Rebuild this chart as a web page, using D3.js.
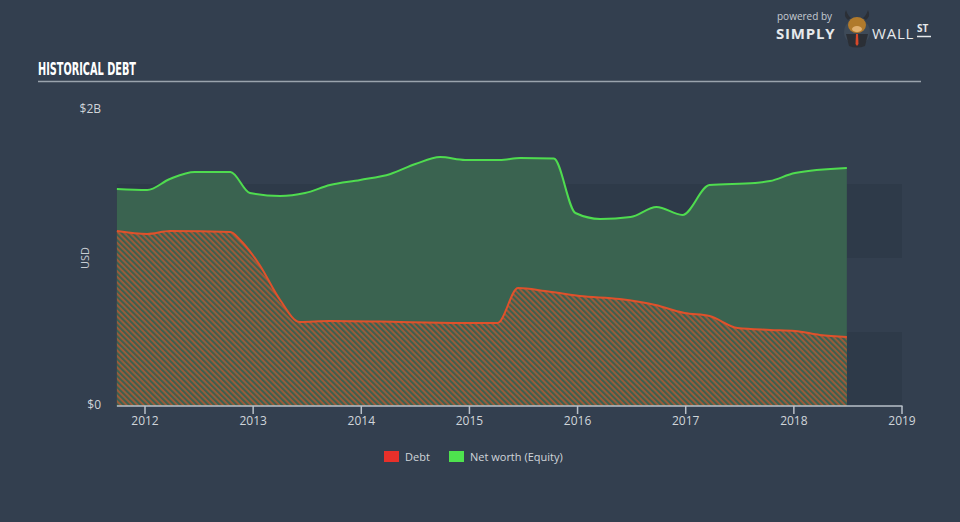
<!DOCTYPE html>
<html>
<head>
<meta charset="utf-8">
<script src="https://cdn.jsdelivr.net/npm/d3@7"></script>
<style>
  html, body { margin: 0; padding: 0; background: #333f4f; }
  svg { display: block; }
</style>
</head>
<body>
<div id="app"></div>
<script>
// dates as fractional years, values in billions USD
const equityDates = [2011.74, 2012.02, 2012.23, 2012.46, 2012.79, 2012.97, 2013.25, 2013.48, 2013.71, 2013.99,
  2014.27, 2014.50, 2014.73, 2014.96, 2015.28, 2015.47, 2015.78, 2015.98, 2016.21, 2016.49, 2016.73, 2016.97,
  2017.22, 2017.64, 2017.78, 2018.01, 2018.49];
const equityValues = [1.466, 1.459, 1.534, 1.581, 1.581, 1.439, 1.419, 1.439, 1.493, 1.527,
  1.568, 1.635, 1.682, 1.662, 1.662, 1.676, 1.672, 1.304, 1.264, 1.277, 1.345, 1.291,
  1.493, 1.507, 1.52, 1.574, 1.608];

const debtDates = [2011.74, 2012.02, 2012.23, 2012.79, 2012.88, 2013.06, 2013.25, 2013.43, 2013.71, 2014.36,
  2015.01, 2015.26, 2015.45, 2015.70, 2016.02, 2016.39, 2016.72, 2016.99, 2017.22, 2017.48, 2017.78,
  2018.01, 2018.24, 2018.49];
const debtValues = [1.182, 1.162, 1.182, 1.176, 1.122, 0.953, 0.716, 0.568, 0.574, 0.568,
  0.561, 0.561, 0.797, 0.777, 0.743, 0.723, 0.682, 0.628, 0.608, 0.527, 0.514,
  0.507, 0.480, 0.466];

const xTicks = [2012, 2013, 2014, 2015, 2016, 2017, 2018, 2019];
const yTicks = [0, 2];
const yTickLabels = ["$0", "$2B"];
const bands = [[0, 0.5], [1, 1.5]];
const legendItems = [
  { name: "Debt", color: "#e8302a" },
  { name: "Net worth (Equity)", color: "#4ee24e" }
];

const width = 960, height = 522;

const svg = d3.select("#app")
  .append("svg")
  .attr("width", width)
  .attr("height", height);

svg.append("rect").attr("width", width).attr("height", height).attr("fill", "#333f4f");

const x = d3.scaleLinear().domain([2012, 2019]).range([145, 902]);
const y = d3.scaleLinear().domain([0, 2]).range([406, 110]);
const x0 = x(equityDates[0]);

// hatch pattern for debt
const defs = svg.append("defs");
const pat = defs.append("pattern")
  .attr("id", "hatch")
  .attr("patternUnits", "userSpaceOnUse")
  .attr("width", 4)
  .attr("height", 4)
  .attr("patternTransform", "rotate(45)");
pat.append("rect").attr("width", 4).attr("height", 4).attr("fill", "#3c6150");
pat.append("rect").attr("width", 4).attr("height", 1.8).attr("fill", "#a35a38");

// title
svg.append("text")
  .attr("x", 38).attr("y", 75)
  .attr("fill", "#ffffff")
  .attr("textLength", 98)
  .attr("lengthAdjust", "spacingAndGlyphs")
  .style("font-family", "'DejaVu Sans Condensed', 'Liberation Sans Narrow', sans-serif")
  .style("font-weight", "bold")
  .style("font-size", "17px")
  .text("HISTORICAL DEBT");
svg.append("line")
  .attr("x1", 38).attr("x2", 921).attr("y1", 81.5).attr("y2", 81.5)
  .attr("stroke", "#9aa3ad").attr("stroke-width", 1.5);

// background bands
svg.selectAll("rect.band")
  .data(bands)
  .join("rect")
  .attr("class", "band")
  .attr("x", x0)
  .attr("width", x(2019) - x0)
  .attr("y", d => y(d[1]))
  .attr("height", d => y(d[0]) - y(d[1]))
  .attr("fill", "#2e3a49");

const equity = equityDates.map((d, i) => ({ t: d, v: equityValues[i] }));
const debt = debtDates.map((d, i) => ({ t: d, v: debtValues[i] }));

const curve = d3.curveMonotoneX;

svg.append("path")
  .datum(equity)
  .attr("fill", "#3a6350")
  .attr("d", d3.area().curve(curve).x(d => x(d.t)).y0(y(0)).y1(d => y(d.v)));

svg.append("path")
  .datum(debt)
  .attr("fill", "url(#hatch)")
  .attr("d", d3.area().curve(curve).x(d => x(d.t)).y0(y(0)).y1(d => y(d.v)));

svg.append("path")
  .datum(equity)
  .attr("fill", "none")
  .attr("stroke", "#4fdc4f")
  .attr("stroke-width", 2)
  .attr("d", d3.line().curve(curve).x(d => x(d.t)).y(d => y(d.v)));

svg.append("path")
  .datum(debt)
  .attr("fill", "none")
  .attr("stroke", "#e0512b")
  .attr("stroke-width", 2)
  .attr("d", d3.line().curve(curve).x(d => x(d.t)).y(d => y(d.v)));

// x axis
const xAxis = svg.append("g")
  .attr("transform", `translate(0,${y(0)})`);
xAxis.append("line")
  .attr("x1", x0).attr("x2", x(2019) + 0.5)
  .attr("stroke", "#b9c0c8").attr("stroke-width", 1.5);
xAxis.selectAll("line.tick")
  .data(xTicks)
  .join("line")
  .attr("class", "tick")
  .attr("x1", d => x(d)).attr("x2", d => x(d))
  .attr("y1", 0).attr("y2", 8)
  .attr("stroke", "#b9c0c8").attr("stroke-width", 1.5);
xAxis.selectAll("text")
  .data(xTicks)
  .join("text")
  .attr("x", d => x(d)).attr("y", 19)
  .attr("text-anchor", "middle")
  .attr("fill", "#d0d5da")
  .style("font-family", "'Open Sans', sans-serif")
  .style("font-size", "12px")
  .text(d => d);

// y labels
svg.selectAll("text.ytick")
  .data(yTicks)
  .join("text")
  .attr("class", "ytick")
  .attr("x", 101)
  .attr("y", d => y(d) + 3)
  .attr("text-anchor", "end")
  .attr("fill", "#d0d5da")
  .style("font-family", "'Open Sans', sans-serif")
  .style("font-size", "12px")
  .text((d, i) => yTickLabels[i]);

svg.append("text")
  .attr("transform", `translate(89,${y(1)}) rotate(-90)`)
  .attr("text-anchor", "middle")
  .attr("fill", "#c8cdd3")
  .style("font-family", "'Open Sans', sans-serif")
  .style("font-size", "11px")
  .text("USD");

// legend
const legend = svg.append("g").attr("transform", "translate(384,451)");
const lx = [0, 65];
legendItems.forEach((item, i) => {
  legend.append("rect")
    .attr("x", lx[i]).attr("y", 0)
    .attr("width", 15).attr("height", 11)
    .attr("fill", item.color);
  legend.append("text")
    .attr("x", lx[i] + 21).attr("y", 10)
    .attr("fill", "#d0d5da")
    .style("font-family", "'Open Sans', sans-serif")
    .style("font-size", "11px")
    .text(item.name);
});

// logo
const logo = svg.append("g");
logo.append("text")
  .attr("x", 777).attr("y", 20)
  .attr("fill", "#c6ccd3")
  .style("font-family", "'Open Sans', sans-serif")
  .style("font-size", "10px")
  .text("powered by");
logo.append("text")
  .attr("x", 776).attr("y", 39)
  .attr("fill", "#e6e9ec")
  .style("font-family", "'Open Sans', sans-serif")
  .style("font-weight", "bold")
  .style("font-size", "15px")
  .style("letter-spacing", "0.8px")
  .text("SIMPLY");
logo.append("circle").attr("cx", 857).attr("cy", 32).attr("r", 13).attr("fill", "#3e4a58");
logo.append("path")
  .attr("d", "M846,34 L868,34 L865,46 Q857,49 849,46 Z")
  .attr("fill", "#2b2f36");
logo.append("path")
  .attr("d", "M856,34 L858,34 L858.5,44 L857,46 L855.5,44 Z")
  .attr("fill", "#d8482a");
logo.append("ellipse").attr("cx", 857).attr("cy", 25).attr("rx", 9).attr("ry", 8).attr("fill", "#b07a2c");
logo.append("path")
  .attr("d", "M848,20 Q843,16 846,10 Q848,16 851,18 Z M866,20 Q871,16 868,10 Q866,16 863,18 Z")
  .attr("fill", "#2b2f36");
logo.append("ellipse").attr("cx", 857).attr("cy", 29).attr("rx", 5).attr("ry", 3).attr("fill", "#e0b070");
logo.append("text")
  .attr("x", 872).attr("y", 39)
  .attr("fill", "#e6e9ec")
  .style("font-family", "'Open Sans', sans-serif")
  .style("font-size", "15px")
  .style("letter-spacing", "0.8px")
  .text("WALL");
logo.append("text")
  .attr("x", 917).attr("y", 32)
  .attr("fill", "#e6e9ec")
  .style("font-family", "'Open Sans', sans-serif")
  .style("font-weight", "bold")
  .style("font-size", "10px")
  .text("ST");
logo.append("line")
  .attr("x1", 917).attr("x2", 931).attr("y1", 36.5).attr("y2", 36.5)
  .attr("stroke", "#e6e9ec").attr("stroke-width", 1.5);
</script>
</body>
</html>
